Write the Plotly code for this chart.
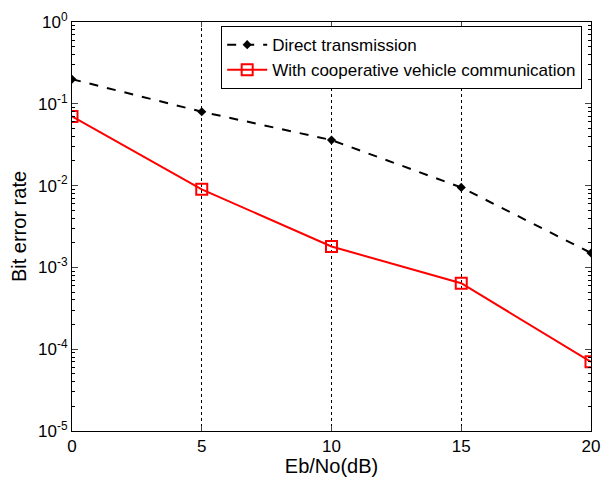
import plotly.graph_objects as go

snr_db = [0, 5, 10, 15, 20]
ber_direct = [0.20, 0.080, 0.036, 0.0095, 0.0015]
ber_coop = [0.070, 0.0090, 0.0018, 0.00064, 0.000070]
name_direct = "Direct transmission"
name_coop = "With cooperative vehicle communication"
x_ticks = [0, 5, 10, 15, 20]
y_exps = [0, -1, -2, -3, -4, -5]

y_tickvals = [10.0 ** e for e in y_exps]
y_ticktext = ["10<sup>%d</sup>" % e for e in y_exps]
minor_vals = [k * 10.0 ** e for e in range(-5, 0) for k in range(2, 10)]

font = dict(family="Liberation Sans, Arial, sans-serif", size=17, color="black")

fig = go.Figure()
fig.add_trace(go.Scatter(
    x=snr_db, y=ber_direct, name=name_direct, mode="lines+markers",
    line=dict(color="black", width=2, dash="dash"),
    marker=dict(symbol="diamond", size=7, color="black"),
))
fig.add_trace(go.Scatter(
    x=snr_db, y=ber_coop, name=name_coop, mode="lines+markers",
    line=dict(color="red", width=2),
    marker=dict(symbol="square-open", size=11, color="red", line=dict(width=2, color="red")),
))

fig.update_layout(
    width=607, height=477,
    margin=dict(l=72, r=16, t=22, b=46),
    paper_bgcolor="white", plot_bgcolor="white",
    font=font,
    showlegend=True,
    legend=dict(
        x=0.983, y=0.99, xanchor="right", yanchor="top",
        bgcolor="white", bordercolor="black", borderwidth=1,
        font=font, tracegroupgap=0, itemwidth=40,
    ),
)
fig.update_xaxes(
    range=[0, 20], tickvals=x_ticks, ticks="inside", ticklen=5,
    showline=True, linecolor="black", linewidth=1, mirror="ticks",
    showgrid=True, gridcolor="black", griddash="dot", gridwidth=1,
    zeroline=False, automargin=False, title=dict(text="Eb/No(dB)", standoff=2),
    tickfont=font,
)
fig.update_yaxes(
    type="log", range=[-5, 0], tickmode="array", tickvals=y_tickvals, ticktext=y_ticktext,
    ticks="inside", ticklen=6, showline=True, linecolor="black", linewidth=1, mirror="ticks",
    showgrid=False, zeroline=False, automargin=False,
    minor=dict(tickmode="array", tickvals=minor_vals, ticks="inside", ticklen=3, tickcolor="black", showgrid=False),
    title=dict(text="Bit error rate", standoff=6),
    tickfont=font,
)

fig.write_html("out.html")
